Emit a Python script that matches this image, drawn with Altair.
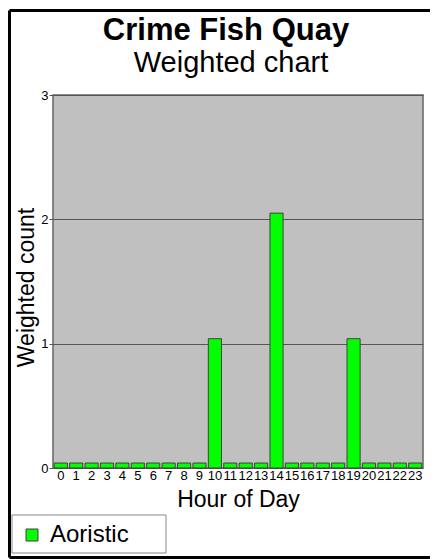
import altair as alt
import pandas as pd

hours = [str(h) for h in range(24)]
values = [0.04, 0.04, 0.04, 0.04, 0.04, 0.04, 0.04, 0.04, 0.04, 0.04,
          1.04, 0.04, 0.04, 0.04, 2.05, 0.04, 0.04, 0.04, 0.04, 1.04,
          0.04, 0.04, 0.04, 0.04]
series = ["Aoristic"] * 24
y_ticks = [0, 1, 2, 3]
title_text = "Crime Fish Quay"
subtitle_text = "Weighted chart"

df = pd.DataFrame({"hour": hours, "value": values, "series": series})
one = pd.DataFrame({"a": [0]})

FONT = "Liberation Sans"
W, H = 370, 373
PL, PT, PR, PB = 45, 87, 7, 91

bars = alt.Chart(df).mark_bar(stroke="#404040", strokeWidth=1).encode(
    x=alt.X("hour:N", sort=hours,
            scale=alt.Scale(paddingInner=0.15, paddingOuter=0.08),
            axis=alt.Axis(title="Hour of Day", labelAngle=0, labelFontSize=13,
                          labelPadding=1, ticks=False, domain=False,
                          titleFontSize=23, titleFontWeight="normal",
                          titlePadding=6, labelColor="black", titleColor="black")),
    y=alt.Y("value:Q", scale=alt.Scale(domain=[0, 3], nice=False),
            axis=alt.Axis(title="Weighted count", values=y_ticks, format="d",
                          labelFontSize=13, tickSize=4, tickColor="#555",
                          domain=False, gridColor="#555", gridOpacity=1,
                          titleFontSize=23, titleFontWeight="normal",
                          titlePadding=2, titleY=192,
                          labelColor="black", titleColor="black",
                          labelPadding=1)),
    color=alt.Color("series:N", scale=alt.Scale(range=["#00FF00"]),
                    legend=alt.Legend(title=None,
                                      orient="none", legendX=-41, legendY=420,
                                      symbolType="square", symbolSize=144,
                                      symbolStrokeColor="#404040", symbolStrokeWidth=1,
                                      labelFontSize=24, labelColor="black",
                                      padding=8, symbolOffset=0, labelOffset=6))
)

def rule(x, x2, y, y2):
    return alt.Chart(one).mark_rule(color="black", strokeWidth=3, clip=False).encode(
        x=alt.value(x), x2=alt.value(x2), y=alt.value(y), y2=alt.value(y2))

left_b = rule(-PL + 1.5, -PL + 1.5, -PT + 2.5, H + PB - 1.5)
top_b = rule(-PL + 1.5, W + PR + 10, -PT + 2.5, -PT + 2.5)
bottom_b = rule(-PL + 1.5, W + PR + 10, H + PB - 1.5, H + PB - 1.5)

legend_box = alt.Chart(one).mark_rect(
    fill="white", stroke="#888", strokeWidth=1, clip=False
).encode(x=alt.value(-41), x2=alt.value(113), y=alt.value(420), y2=alt.value(458))

title_mark = alt.Chart(one).mark_text(
    text=title_text, font=FONT, fontSize=31, fontWeight="bold", color="black",
    align="center", baseline="alphabetic", clip=False
).encode(x=alt.value(173), y=alt.value(-55))

subtitle_mark = alt.Chart(one).mark_text(
    text=subtitle_text, font=FONT, fontSize=29, color="black",
    align="center", baseline="alphabetic", clip=False
).encode(x=alt.value(178), y=alt.value(-23))

chart = alt.layer(bars, left_b, top_b, bottom_b, legend_box, title_mark, subtitle_mark).properties(
    width=W, height=H,
    autosize=alt.AutoSizeParams(type="none"),
    padding={"left": PL, "top": PT, "right": PR, "bottom": PB},
).configure(font=FONT).configure_view(
    fill="#C0C0C0", stroke="#666", strokeWidth=1.5
)

chart.save("out.html", embed_options={"renderer": "svg", "actions": False})
